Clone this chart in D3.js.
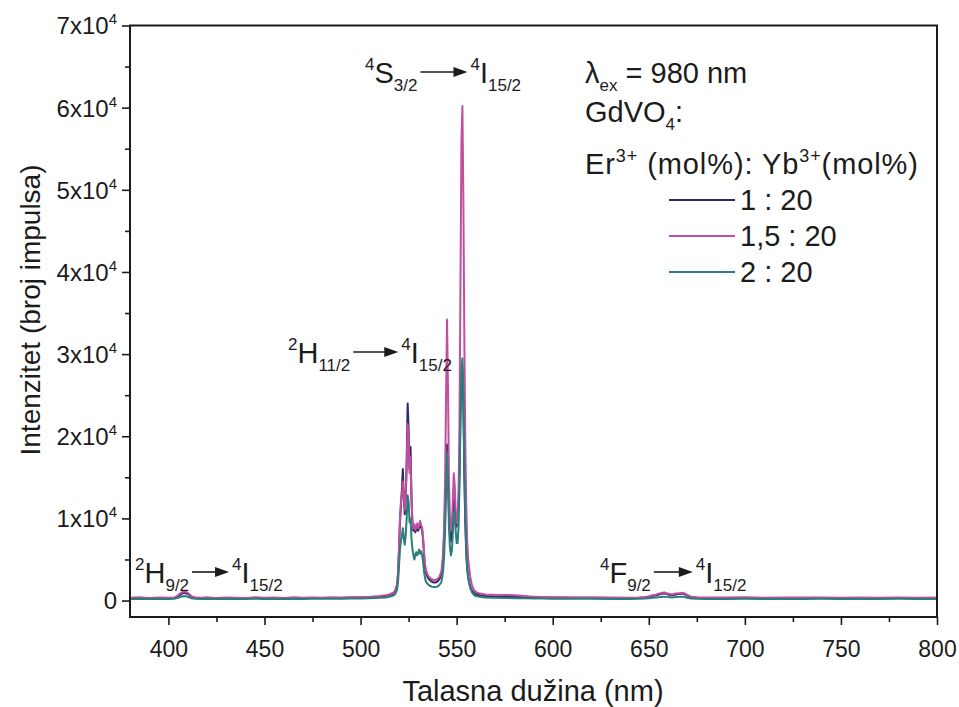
<!DOCTYPE html>
<html><head><meta charset="utf-8">
<script src="https://cdn.jsdelivr.net/npm/d3@7"></script>
<style>
body{margin:0;background:#fff}
svg{display:block}
text{font-family:"Liberation Sans",Arial,sans-serif;fill:#1b1b1b}
</style>
</head><body>
<svg id="c" width="959" height="707"></svg>
<script>
// ---------- DATA ----------
const wavelength = [
 380,385,390,395,400,403,404,405,406,407,
 408,409,410,411,412,414,417,420,425,430,
 435,440,445,450,455,460,465,470,475,480,
 485,490,495,500,505,510,513,515,517,518,
 519,519.5,520,520.5,521,521.5,522,522.5,523,523.5,
 524,524.5,525,525.5,526,526.5,527,527.5,528,528.5,
 529,529.5,530,530.5,531,531.5,532,532.5,533,533.5,
 534,535,536,537,538,539,540,541,542,542.5,
 543,543.5,544,544.5,545,545.5,546,546.5,547,547.5,
 548,548.5,549,549.5,550,550.5,551,551.5,552,552.5,
 553,553.5,554,554.5,555,555.5,556,557,558,559,
 560,562,565,570,575,580,585,590,595,600,
 610,620,630,640,645,648,650,652,654,656,
 658,660,662,664,666,668,670,672,675,680,
 690,700,710,720,730,740,750,760,770,780,
 790,800];

// Er:Yb = 1 : 20
const series1 = [
 300,330,280,320,300,340,420,550,700,850,
 950,900,800,650,450,340,300,330,290,320,
 300,280,330,300,320,290,330,300,320,310,
 330,320,360,380,420,480,560,650,850,1100,
 1800,3200,6000,9500,11500,13500,16000,12500,10500,12500,
 17000,24000,21000,16000,18700,12500,9300,8500,9000,8300,
 8700,9100,8500,8900,9400,8900,8600,7500,5700,4200,
 3400,2800,2500,2300,2200,2200,2300,2600,3100,3900,
 5400,8000,12000,16000,19000,15500,10500,8000,7200,8000,
 10000,12500,12000,10000,9000,10500,12000,16000,23000,27500,
 28500,24000,15500,9500,5800,3900,2800,1700,1200,950,
 800,650,550,500,460,440,420,400,380,360,
 340,330,320,310,330,370,450,550,650,800,
 900,750,650,750,800,850,600,400,340,320,
 300,320,290,310,300,320,290,310,300,320,
 290,310];

// Er:Yb = 1,5 : 20
const series2 = [
 330,370,310,360,330,380,480,650,850,1000,
 1100,1050,950,750,520,360,330,370,320,360,
 350,320,380,340,360,320,380,340,370,350,
 380,360,400,430,480,560,650,750,950,1250,
 2000,3500,6500,10000,12000,12800,14500,12800,11000,12800,
 16500,21500,20000,15500,17500,12500,9600,8800,9300,8600,
 9000,9400,8800,9200,9700,9200,8900,7800,6000,4500,
 3700,3100,2800,2600,2500,2500,2600,2900,3500,4300,
 6000,9000,15000,25000,34200,26000,14500,10000,8600,9600,
 12000,15500,14000,10800,9400,9600,13000,22000,39000,56000,
 60200,49000,32000,19000,11500,7200,5000,3000,1800,1300,
 1050,850,750,700,680,650,560,480,420,390,
 380,370,360,350,380,420,520,650,750,900,
 1000,850,750,850,900,950,700,480,400,380,
 360,390,350,380,360,380,350,370,350,370,
 340,360];

// Er:Yb = 2 : 20
const series3 = [
 200,230,190,220,200,230,280,330,420,500,
 560,530,470,380,280,220,200,230,190,220,
 200,180,230,200,220,190,230,200,220,210,
 230,220,250,260,290,330,380,450,600,800,
 1300,2300,4200,6200,7300,7800,8800,7500,6800,8000,
 10000,12800,12000,9500,10000,7500,6300,5500,5000,5600,
 5900,5500,5800,6200,5700,6000,5600,4800,3600,2800,
 2300,2000,1800,1700,1650,1650,1700,1900,2200,2800,
 3800,5500,8500,13000,18000,14500,9000,6500,5500,6000,
 8000,10500,11000,8500,7000,7000,9000,14000,22000,28000,
 29500,25000,16000,10000,6000,4000,2800,1600,1000,700,
 550,450,380,340,310,290,270,250,240,230,
 220,210,200,200,220,240,280,330,380,430,
 480,420,380,420,450,470,350,260,220,200,
 190,210,180,200,190,210,180,200,190,210,
 180,200];

const seriesNames  = ["1 : 20", "1,5 : 20", "2 : 20"];
const seriesColors = ["#2e2963", "#c24ea0", "#2a7e7c"];
const xMajorTicks = [400,450,500,550,600,650,700,750,800];
const xMinorTicks = [425,475,525,575,625,675,725,775];
const yMajorTicks = [0,10000,20000,30000,40000,50000,60000,70000];
const yMinorTicks = [5000,15000,25000,35000,45000,55000,65000];

// ---------- CHART ----------
const svg = d3.select("#c");
const L = 130, R = 937, T = 25.5, B = 617;
const x = d3.scaleLinear().domain([380, 800]).range([L, R]);
const y = d3.scaleLinear().domain([-2000, 70000]).range([B, T]);

const allSeries = [series1, series2, series3];
const line = d3.line().x((d, i) => x(wavelength[i])).y(d => y(d));

const plot = svg.append("g");
plot.append("clipPath").attr("id","clip").append("rect")
  .attr("x", L).attr("y", T).attr("width", R - L).attr("height", B - T);
const lines = plot.append("g").attr("clip-path","url(#clip)");
allSeries.forEach((s, k) => {
  lines.append("path").datum(s)
    .attr("d", line)
    .attr("fill","none")
    .attr("stroke", seriesColors[k])
    .attr("stroke-width", 2)
    .attr("stroke-linejoin","round");
});

// axes
const axisColor = "#1b1b1b";
const FONT = '"Liberation Sans",Arial,sans-serif';
const gx = svg.append("g").attr("transform", `translate(0,${B})`)
  .call(d3.axisBottom(x).tickValues(xMajorTicks).tickSize(8).tickPadding(16).tickFormat(d3.format("d")));
svg.append("g").attr("transform", `translate(0,${B})`)
  .call(d3.axisBottom(x).tickValues(xMinorTicks).tickSize(5).tickFormat(""));
const gy = svg.append("g").attr("transform", `translate(${L},0)`)
  .call(d3.axisLeft(y).tickValues(yMajorTicks).tickSize(8).tickPadding(5).tickFormat(""));
svg.append("g").attr("transform", `translate(${L},0)`)
  .call(d3.axisLeft(y).tickValues(yMinorTicks).tickSize(5).tickFormat(""));
svg.selectAll(".domain").remove();
svg.selectAll(".tick line").attr("stroke", axisColor).attr("stroke-width", 1.6);
gx.selectAll(".tick text").attr("font-size", 23).attr("fill", axisColor).style("font-family", FONT);

// y tick labels with superscripts
gy.selectAll(".tick").each(function(d) {
  const t = d3.select(this).select("text")
    .attr("x", -13).attr("dy", "0.35em").attr("text-anchor","end")
    .attr("font-size", 24).attr("fill", axisColor).style("font-family", FONT);
  t.text(null);
  if (d === 0) { t.append("tspan").text("0"); }
  else {
    t.append("tspan").text((d / 10000) + "x10");
    t.append("tspan").attr("dy", -10).attr("font-size", 15).text("4");
  }
});

// frame
svg.append("rect").attr("x", L).attr("y", T).attr("width", R - L).attr("height", B - T)
  .attr("fill","none").attr("stroke", axisColor).attr("stroke-width", 2);

// axis titles
svg.append("text").attr("x", 533).attr("y", 701).attr("text-anchor","middle")
  .attr("font-size", 29).text("Talasna dužina (nm)");
svg.append("text").attr("transform", `translate(40,310) rotate(-90)`)
  .attr("text-anchor","middle").attr("font-size", 28).text("Intenzitet (broj impulsa)");

// transition annotations
function transition(x0, yb, sup1, main1, sub1, arrowLen, sup2, main2, sub2) {
  const g = svg.append("g");
  const t1 = g.append("text").attr("x", x0).attr("y", yb);
  t1.append("tspan").attr("font-size", 17).attr("dy", -13).text(sup1);
  t1.append("tspan").attr("font-size", 29).attr("dy", 13).text(main1);
  t1.append("tspan").attr("font-size", 17).attr("dy", 8).text(sub1);
  const w1 = t1.node().getComputedTextLength();
  const ax0 = x0 + w1 + 3, ax1 = ax0 + arrowLen, ay = yb - 11;
  g.append("line").attr("x1", ax0).attr("x2", ax1 - 10).attr("y1", ay).attr("y2", ay)
    .attr("stroke", "#1b1b1b").attr("stroke-width", 1.6);
  g.append("path").attr("d", `M${ax1},${ay} L${ax1 - 14},${ay - 5} L${ax1 - 14},${ay + 5} Z`).attr("fill","#1b1b1b");
  const t2 = g.append("text").attr("x", ax1 + 3).attr("y", yb);
  t2.append("tspan").attr("font-size", 17).attr("dy", -13).text(sup2);
  t2.append("tspan").attr("font-size", 29).attr("dy", 13).text(main2);
  t2.append("tspan").attr("font-size", 17).attr("dy", 8).text(sub2);
}
transition(365, 83, "4", "S", "3/2", 47, "4", "I", "15/2");
transition(288, 363, "2", "H", "11/2", 45, "4", "I", "15/2");
transition(135, 583, "2", "H", "9/2", 37, "4", "I", "15/2");
transition(600, 583, "4", "F", "9/2", 39, "4", "I", "15/2");

// legend block
const lg = svg.append("g");
const LF = 29;
const lt1 = lg.append("text").attr("x", 585).attr("y", 83).attr("font-size", LF);
lt1.append("tspan").text("λ");
lt1.append("tspan").attr("font-size", 17).attr("dy", 8).text("ex");
lt1.append("tspan").attr("dy", -8).text(" = 980 nm");
const lt2 = lg.append("text").attr("x", 585).attr("y", 122).attr("font-size", LF);
lt2.append("tspan").text("GdVO");
lt2.append("tspan").attr("font-size", 17).attr("dy", 8).text("4");
lt2.append("tspan").attr("dy", -8).text(":");
const lt3 = lg.append("text").attr("x", 585).attr("y", 174).attr("font-size", LF)
  .attr("textLength", 333).attr("lengthAdjust", "spacing");
lt3.append("tspan").text("Er");
lt3.append("tspan").attr("font-size", 18).attr("dy", -12).text("3+");
lt3.append("tspan").attr("dy", 12).text(" (mol%): Yb");
lt3.append("tspan").attr("font-size", 18).attr("dy", -12).text("3+");
lt3.append("tspan").attr("dy", 12).text("(mol%)");

seriesNames.forEach((n, k) => {
  const yy = 200 + k * 36;
  lg.append("line").attr("x1", 669).attr("x2", 735).attr("y1", yy).attr("y2", yy)
    .attr("stroke", seriesColors[k]).attr("stroke-width", 2.2);
  lg.append("text").attr("x", 740).attr("y", yy + 10).attr("font-size", LF).text(n);
});
</script>
</body></html>
